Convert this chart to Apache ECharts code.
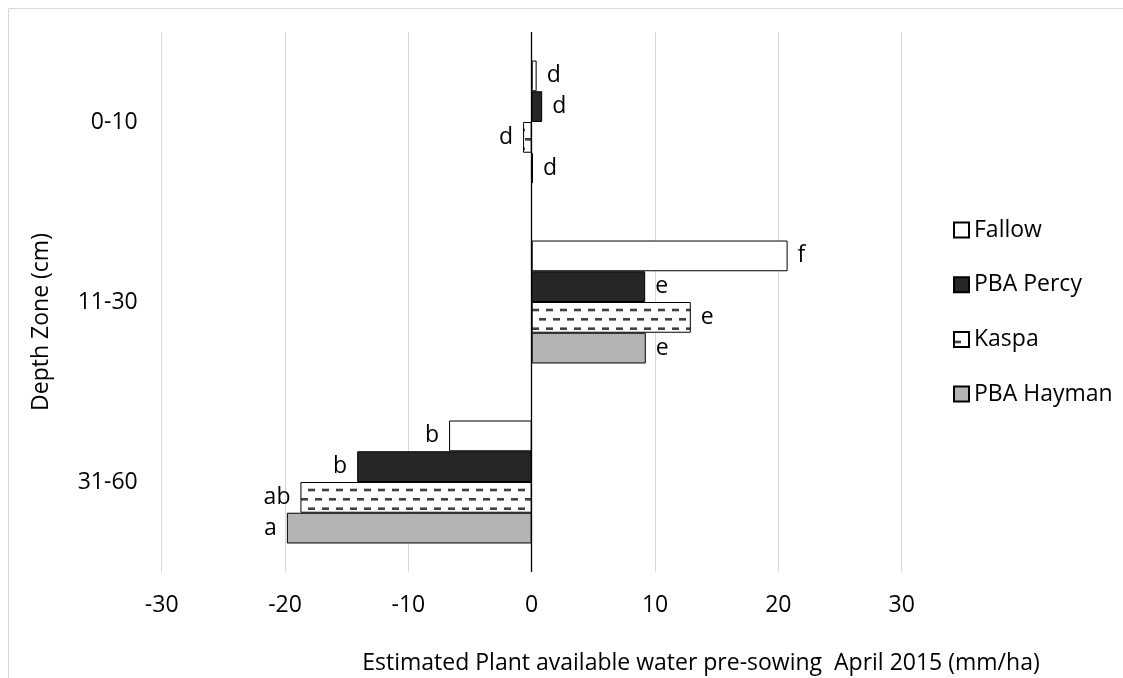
<!DOCTYPE html>
<html>
<head>
<meta charset="utf-8">
<script src="https://cdn.jsdelivr.net/npm/echarts@6/dist/echarts.min.js"></script>
<style>
html,body{margin:0;padding:0;background:#fff;}
#chart{width:1123px;height:678px;}
</style>
</head>
<body>
<div id="chart"></div>
<script>
// ---- data ----
const depthZones = ['0-10', '11-30', '31-60'];
const seriesNames = ['Fallow', 'PBA Percy', 'Kaspa', 'PBA Hayman'];
const fallow = [0.4, 20.75, -6.7];
const percy = [0.85, 9.2, -14.15];
const kaspa = [-0.7, 12.9, -18.75];
const hayman = [0.1, 9.25, -19.85];
const fallowSig = ['d', 'f', 'b'];
const percySig = ['d', 'e', 'b'];
const kaspaSig = ['d', 'e', 'ab'];
const haymanSig = ['d', 'e', 'a'];
const xTicks = [-30, -20, -10, 0, 10, 20, 30];
const xTitle = 'Estimated Plant available water pre-sowing  April 2015 (mm/ha)';
const yTitle = 'Depth Zone (cm)';

const FONT = 'Open Sans';
const FS = 23;

// dashed-line fill pattern for Kaspa
function makeDashPattern() {
  const c = document.createElement('canvas');
  c.width = 14; c.height = 30;
  const g = c.getContext('2d');
  g.fillStyle = '#ffffff';
  g.fillRect(0, 0, 14, 30);
  g.fillStyle = '#404040';
  g.fillRect(0, 8.7, 7, 2.6);    // row A
  g.fillRect(7, 18.0, 7, 2.6);   // row B (staggered)
  g.fillRect(0, 27.4, 7, 2.6);   // row A
  return c;
}

function makeData(values, sig) {
  return values.map((v, i) => ({
    value: v,
    label: { position: v < 0 ? 'left' : 'right', formatter: sig[i] }
  }));
}

const styles = [
  { color: '#ffffff' },
  { color: '#262626' },
  { color: { image: makeDashPattern(), repeat: 'repeat' } },
  { color: '#b4b4b4' }
];
const allValues = [fallow, percy, kaspa, hayman];
const allSig = [fallowSig, percySig, kaspaSig, haymanSig];

const series = seriesNames.map((name, k) => ({
  name: name,
  type: 'bar',
  barGap: '0%',
  barCategoryGap: '31.7%',
  itemStyle: Object.assign({ borderColor: '#000', borderWidth: 1 }, styles[k]),
  label: {
    show: true, distance: 10, color: '#000',
    fontFamily: FONT, fontSize: FS
  },
  emphasis: { disabled: true },
  data: makeData(allValues[k], allSig[k]),
  markLine: k === 0 ? {
    silent: true, symbol: ['none', 'none'],
    label: { show: false },
    lineStyle: { color: '#000', width: 1.3, type: 'solid' },
    data: [{ xAxis: 0 }]
  } : undefined
}));

const chart = echarts.init(document.getElementById('chart'), null, { renderer: 'canvas' });
chart.setOption({
  backgroundColor: '#fff',
  animation: false,
  aria: { enabled: false },
  grid: { left: 161.7, right: 221.3, top: 32, bottom: 106, containLabel: false },
  xAxis: {
    type: 'value', min: xTicks[0], max: xTicks[xTicks.length - 1], interval: 10,
    axisLine: { show: false }, axisTick: { show: false },
    splitLine: { show: true, lineStyle: { color: '#d9d9d9', width: 1 } },
    axisLabel: { color: '#000', fontFamily: FONT, fontSize: FS, margin: 22 }
  },
  yAxis: {
    type: 'category', data: depthZones, inverse: true,
    axisLine: { show: false }, axisTick: { show: false },
    splitLine: { show: false },
    axisLabel: { color: '#000', fontFamily: FONT, fontSize: FS, margin: 24 }
  },
  legend: {
    orient: 'vertical', left: 948, top: 213,
    itemWidth: 15, itemHeight: 15, itemGap: 30.7,
    icon: 'rect',
    textStyle: { color: '#000', fontFamily: FONT, fontSize: FS, lineHeight: 24 },
    data: seriesNames
  },
  graphic: [
    { type: 'rect', shape: { x: 8.5, y: 8.5, width: 1300, height: 900 },
      style: { fill: 'none', stroke: '#d9d9d9', lineWidth: 1 }, silent: true, z: -10 },
    { type: 'text', x: 701, y: 663,
      style: { text: xTitle, fontFamily: FONT, fontSize: FS, fill: '#000',
               textAlign: 'center', textVerticalAlign: 'middle' } },
    { type: 'text', x: 41.7, y: 322, rotation: Math.PI / 2,
      style: { text: yTitle, fontFamily: FONT, fontSize: FS, fill: '#000',
               textAlign: 'center', textVerticalAlign: 'middle' } }
  ],
  series: series
});
</script>
</body>
</html>
